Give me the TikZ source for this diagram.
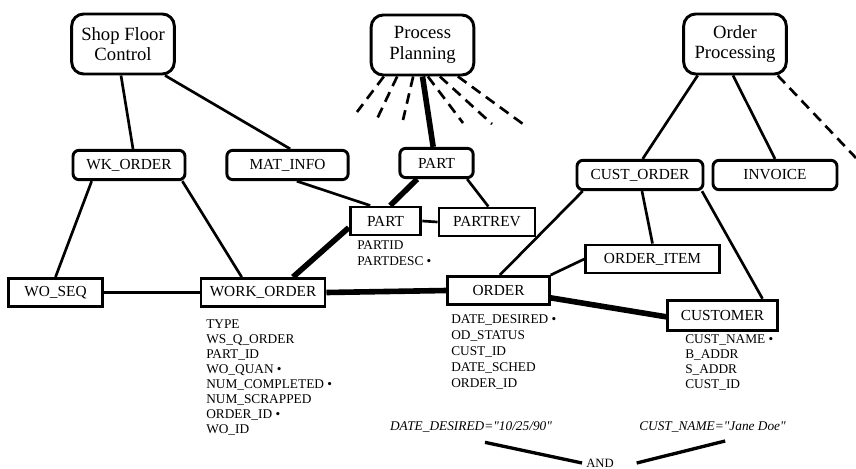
\documentclass[tikz,border=0pt]{standalone}
\usepackage{fontspec}
\setmainfont{Liberation Serif}
\usepackage{tikz}

\tikzset{
  module/.style={draw, rounded corners=9pt, line width=2.2pt, minimum width=77pt, minimum height=45pt, align=center, font=\fontsize{14}{15.5}\selectfont},
  view/.style={draw, rounded corners=4.5pt, line width=2.2pt, minimum height=22pt, inner sep=1pt, font=\fontsize{11.5}{13}\selectfont},
  entity/.style={draw, line width=2.2pt, minimum height=21pt, inner sep=1pt, font=\fontsize{11.5}{13}\selectfont},
  attrs/.style={anchor=north west, inner sep=0pt, align=left, font=\fontsize{10}{11.25}\selectfont},
  link/.style={line width=2pt},
  heavy/.style={line width=4.2pt},
  other/.style={line width=2pt, dash pattern=on 8pt off 5pt},
}

\begin{document}
\begin{tikzpicture}[x=0.75pt, y=-0.75pt]
            \useasboundingbox (0,0) rectangle (856,468);

            % Applications
            \node[module] (sfc) at (123,44) {Shop Floor\\Control};
            \node[module] (pp) at (422.5,45) {Process\\Planning};
            \node[module] (op) at (735,44) {Order\\Processing};

            % Views
            \node[view, minimum width=84pt] (wkorder) at (129,165) {WK\_ORDER};
            \node[view, minimum width=91pt] (matinfo) at (287.5,165) {MAT\_INFO};
            \node[view, minimum width=55pt] (partview) at (436.5,163) {PART};
            \node[view, minimum width=94.5pt] (custorder) at (640,175) {CUST\_ORDER};
            \node[view, minimum width=93pt] (invoice) at (775,175) {INVOICE};

            % Entities
            \node[entity, minimum width=53pt] (part) at (385.5,221) {PART};
            \node[entity, minimum width=72pt] (partrev) at (487,222) {PARTREV};
            \node[entity, minimum width=100pt] (orderitem) at (652.5,259) {ORDER\_ITEM};
            \node[entity, minimum width=70pt] (woseq) at (55.5,292.5) {WO\_SEQ};
            \node[entity, minimum width=93pt] (workorder) at (263,292.5) {WORK\_ORDER};
            \node[entity, minimum width=76pt] (order) at (498.5,290.5) {ORDER};
            \node[entity, minimum width=82pt, minimum height=23pt] (customer) at (722.5,315.5) {CUSTOMER};

            % Attributes
            \node[attrs, font=\fontsize{10}{12}\selectfont] (partattr) at (357,240) {PARTID\\PARTDESC •};
            \node[attrs] (woattr) at (206,319) {TYPE\\WS\_Q\_ORDER\\PART\_ID\\WO\_QUAN •\\NUM\_COMPLETED •\\NUM\_SCRAPPED\\ORDER\_ID •\\WO\_ID};
            \node[attrs, font=\fontsize{10}{12}\selectfont] (orderattr) at (451,314) {DATE\_DESIRED •\\OD\_STATUS\\CUST\_ID\\DATE\_SCHED\\ORDER\_ID};
            \node[attrs] (custattr) at (685,334) {CUST\_NAME •\\B\_ADDR\\S\_ADDR\\CUST\_ID};

            % Query
            \node[font=\fontsize{10}{12}\selectfont\itshape] (cond1) at (471,427) {DATE\_DESIRED=\textquotedbl 10/25/90\textquotedbl};
            \node[font=\fontsize{10}{12}\selectfont\itshape] (cond2) at (712.5,427) {CUST\_NAME=\textquotedbl Jane Doe\textquotedbl};
            \node[font=\fontsize{9.5}{11}\selectfont, inner sep=3pt] (andnode) at (600,463) {AND};

            % Loose ends
            \coordinate (r1) at (357,112);
            \coordinate (r2) at (377,119);
            \coordinate (r3) at (403,120);
            \coordinate (r4) at (463,123);
            \coordinate (r5) at (492,124);
            \coordinate (r6) at (523,124);
            \coordinate (r7) at (856,158);

            % Links
            \draw[link] ([xshift=-1.5pt]sfc.south) -- ([xshift=3pt]wkorder.north);
            \draw[link] ([xshift=31.5pt]sfc.south) -- ([xshift=2pt]matinfo.north);
            \draw[heavy] (pp.south) -- ([xshift=-2.5pt]partview.north);
            \draw[other] ([xshift=-29pt]pp.south) -- (r1);
            \draw[other] ([xshift=-19pt]pp.south) -- (r2);
            \draw[other] ([xshift=-7pt]pp.south) -- (r3);
            \draw[other] ([xshift=4pt]pp.south) -- (r4);
            \draw[other] ([xshift=13pt]pp.south) -- (r5);
            \draw[other] ([xshift=26.5pt]pp.south) -- (r6);
            \draw[link] ([xshift=-28pt]op.south) -- ([xshift=2pt]custorder.north);
            \draw[link] ([xshift=-1.5pt]op.south) -- (invoice.north);
            \draw[other] ([xshift=32pt]op.south) -- (r7);
            \draw[link] ([xshift=-28pt]wkorder.south) -- (woseq.north);
            \draw[link] ([xshift=40pt]wkorder.south) -- ([xshift=-16pt]workorder.north);
            \draw[link] ([xshift=7pt]matinfo.south) -- ([xshift=-11.5pt]part.north);
            \draw[heavy] ([xshift=-14.5pt]partview.south) -- ([xshift=3.5pt]part.north);
            \draw[link] ([xshift=23pt]partview.south) -- ([xshift=1pt]partrev.north);
            \draw[link] (part.east) -- (partrev.west);
            \draw[heavy] ([yshift=-5pt]part.west) -- ([xshift=22.5pt]workorder.north);
            \draw[link] (woseq.east) -- (workorder.west);
            \draw[heavy] (workorder.east) -- (order.west);
            \draw[link] ([xshift=-43pt]custorder.south) -- ([xshift=1pt]order.north);
            \draw[link] ([xshift=1.5pt]custorder.south) -- (orderitem.north);
            \draw[link] ([xshift=46.5pt]custorder.south) -- ([xshift=30pt]customer.north);
            \draw[link] (order.north east) -- (orderitem.west);
            \draw[heavy] ([yshift=-5.5pt]order.east) -- ([yshift=-1pt]customer.west);
            \draw[line width=2.5pt] ([xshift=10.5pt,yshift=-4pt]cond1.south) -- (andnode.west);
            \draw[line width=2.5pt] ([xshift=9.5pt,yshift=-3pt]cond2.south) -- ([xshift=14pt]andnode.east);
        \end{tikzpicture}
\end{document}
